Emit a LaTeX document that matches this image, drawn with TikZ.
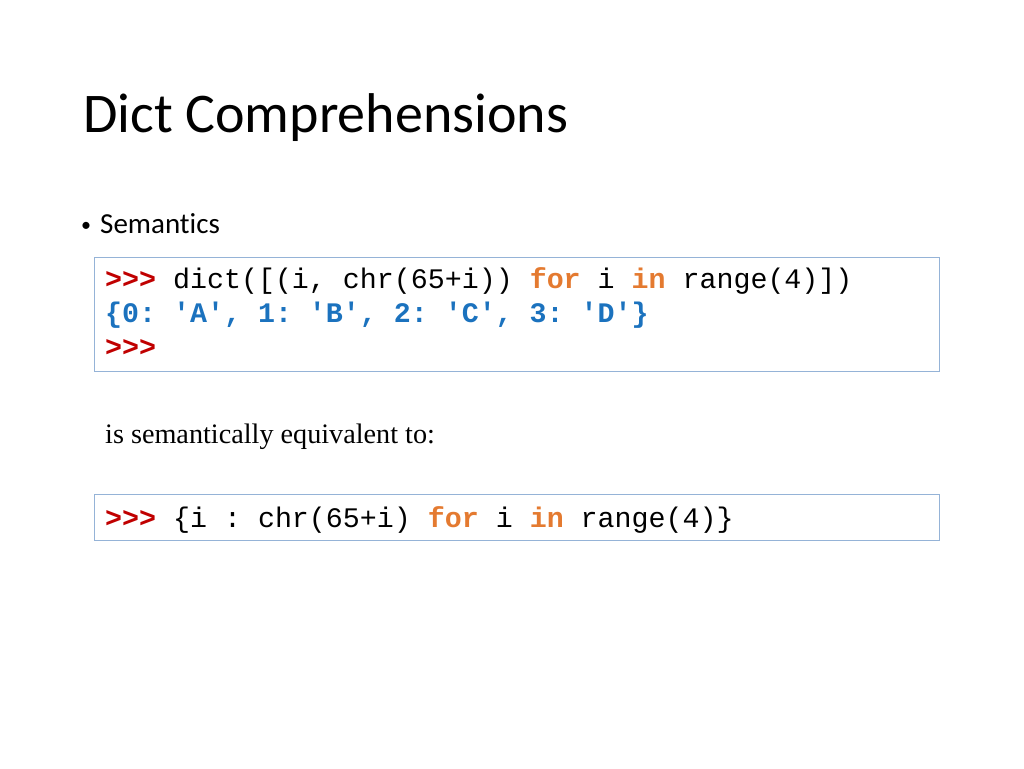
\documentclass[tikz,border=0pt]{standalone}
\usepackage{fontspec}
\setmainfont{Carlito}[Ligatures = {TeX, NoCommon}]
\setmonofont{Liberation Mono}
\newfontfamily\timesfont{Liberation Serif}
\usepackage{xcolor}
\usetikzlibrary{positioning}

\definecolor{promptred}{HTML}{C00000}
\definecolor{kworange}{HTML}{E47A30}
\definecolor{outblue}{HTML}{1B72BE}
\definecolor{boxblue}{HTML}{95B3D7}

\newcommand{\pyprompt}{\textcolor{promptred}{\textbf{>{}>{}>}}}
\newcommand{\pykw}[1]{\textcolor{kworange}{\textbf{#1}}}
\newcommand{\pyout}[1]{\textcolor{outblue}{\textbf{#1}}}

\tikzset{
  codebox/.style = {draw = boxblue, line width = 1pt, anchor = north west, inner sep = 0pt},
  codeline/.style = {anchor = base west, inner sep = 0pt, font = \ttfamily\fontsize{28.3}{34}\selectfont},
}

\begin{document}
\begin{tikzpicture}[x = 1pt, y = -1pt]
			\useasboundingbox (0,0) rectangle (1024,768);
			
			\node (title) [anchor = base west, inner sep = 0pt, font = \fontsize{56}{68}\selectfont] at (83,132) {Dict Comprehensions};
			
			\node (bullet) [anchor = base west, inner sep = 0pt, font = \fontsize{20}{24}\selectfont] at (81,231) {\textbullet};
			\node (semantics) [anchor = base west, inner sep = 0pt, font = \fontsize{29}{34}\selectfont] at (100,233) {Semantics};
			
			% first code box
			\node (box1) [codebox, minimum width = 845pt, minimum height = 114pt] at (94,257) {};
			\node (line1) [codeline] at (105,288) {\pyprompt{} dict([(i, chr(65+i)) \pykw{for} i \pykw{in} range(4)])};
			\node (line2) [codeline] at (105,322) {\pyout{\{0: 'A', 1: 'B', 2: 'C', 3: 'D'\}}};
			\node (line3) [codeline] at (105,356) {\pyprompt};
			
			\node (equiv) [anchor = base west, inner sep = 0pt, font = \timesfont\fontsize{28.2}{33}\selectfont] at (105,443) {is semantically equivalent to:};
			
			% second code box
			\node (box2) [codebox, minimum width = 845pt, minimum height = 46pt] at (94,494) {};
			\node (line4) [codeline] at (105,527) {\pyprompt{} \{i : chr(65+i) \pykw{for} i \pykw{in} range(4)\}};
		\end{tikzpicture}
\end{document}
